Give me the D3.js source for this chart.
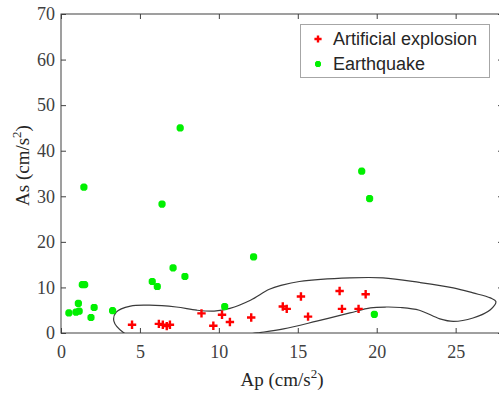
<!DOCTYPE html>
<html>
<head>
<meta charset="utf-8">
<script src="https://cdn.jsdelivr.net/npm/d3@7"></script>
<style>
  body { margin: 0; background: #fff; }
  .tick text { font-family: "Liberation Serif", "Times New Roman", serif; font-size: 18px; fill: #404040; }
  .axis line { stroke: #404040; }
  .axis-label { font-family: "Liberation Serif", "Times New Roman", serif; font-size: 19px; fill: #262626; }
  .legend text { font-family: "Liberation Sans", Arial, sans-serif; font-size: 18px; fill: #262626; }
</style>
</head>
<body>
<div id="chart"></div>
<script>
// data (cm/s^2)
const explosionAp = [4.5, 6.2, 6.45, 6.7, 6.9, 8.9, 9.65, 10.2, 10.7, 12.05, 14.05, 14.3, 15.2, 15.65, 17.65, 17.8, 18.85, 19.3];
const explosionAs = [1.8, 2.0, 1.8, 1.5, 1.8, 4.3, 1.6, 4.0, 2.4, 3.4, 5.8, 5.3, 8.0, 3.6, 9.2, 5.3, 5.3, 8.5];

const quakeAp = [0.5, 0.95, 1.15, 1.1, 1.9, 2.1, 1.35, 1.5, 1.45, 3.27, 5.78, 6.1, 6.4, 7.1, 7.55, 7.85, 10.37, 12.2, 19.05, 19.55, 19.85];
const quakeAs = [4.4, 4.6, 4.8, 6.5, 3.4, 5.6, 10.6, 10.6, 32.0, 4.9, 11.3, 10.2, 28.3, 14.3, 45.0, 12.4, 5.8, 16.7, 35.5, 29.5, 4.1];

// closed boundary curve
const boundAp = [3.95, 3.35, 3.5, 4.4, 5.6, 7.3, 8.6, 9.7, 10.7, 12.0, 13.2, 14.0, 15.1, 18.3, 20.4, 22.7, 24.85, 26.1, 27.2, 27.55, 27.2, 26.1, 24.85, 24.0, 22.7, 21.5, 20.6, 19.6, 18.3, 16.2, 14.1, 12.6, 10.5, 8.0, 5.5, 4.4];
const boundAs = [0.1, 2.6, 4.6, 5.9, 6.1, 5.7, 5.0, 4.8, 5.4, 7.2, 9.6, 10.5, 11.3, 12.1, 12.1, 11.1, 9.9, 8.8, 7.7, 6.9, 5.1, 3.3, 2.55, 3.1, 5.0, 5.6, 5.7, 5.5, 4.4, 2.6, 0.9, 0.1, -0.8, -1.3, -1.1, -0.6];

const xTicks = [0, 5, 10, 15, 20, 25];
const yTicks = [0, 10, 20, 30, 40, 50, 60, 70];
const seriesNames = ["Artificial explosion", "Earthquake"];

const width = 499, height = 396;
const margin = { top: 14, left: 61, bottom: 63 };
const plotRight = 503;

const svg = d3.select("#chart").append("svg")
  .attr("width", width)
  .attr("height", height);

const x = d3.scaleLinear().domain([0, 28]).range([margin.left, plotRight]);
const y = d3.scaleLinear().domain([0, 70]).range([height - margin.bottom, margin.top]);

svg.append("clipPath").attr("id", "plotclip")
  .append("rect")
  .attr("x", x(0)).attr("y", y(70))
  .attr("width", x(28) - x(0)).attr("height", y(0) - y(70));

// axes with inward ticks, box style
const tl = 5;
svg.append("g").attr("class", "axis")
  .attr("transform", `translate(0,${y(0)})`)
  .call(d3.axisBottom(x).tickValues(xTicks).tickSizeInner(-tl).tickSizeOuter(0).tickPadding(12));
svg.append("g").attr("class", "axis")
  .attr("transform", `translate(0,${y(70)})`)
  .call(d3.axisTop(x).tickValues(xTicks).tickSizeInner(-tl).tickSizeOuter(0).tickFormat(""));
svg.append("g").attr("class", "axis")
  .attr("transform", `translate(${x(0)},0)`)
  .call(d3.axisLeft(y).tickValues(yTicks).tickSizeInner(-tl).tickSizeOuter(0).tickPadding(6));
svg.append("g").attr("class", "axis")
  .attr("transform", `translate(${x(28)},0)`)
  .call(d3.axisRight(y).tickValues(yTicks).tickSizeInner(-tl).tickSizeOuter(0).tickFormat(""));
svg.selectAll(".axis .domain").remove();

svg.append("rect")
  .attr("x", x(0)).attr("y", y(70))
  .attr("width", x(28) - x(0)).attr("height", y(0) - y(70))
  .attr("fill", "none").attr("stroke", "#404040").attr("stroke-width", 1);

const plot = svg.append("g").attr("clip-path", "url(#plotclip)");

// boundary
const bound = boundAp.map((d, i) => [d, boundAs[i]]);
plot.append("path")
  .datum(bound)
  .attr("d", d3.line().x(d => x(d[0])).y(d => y(d[1])).curve(d3.curveCatmullRomClosed.alpha(0.5)))
  .attr("fill", "none")
  .attr("stroke", "#3a3a3a")
  .attr("stroke-width", 1.2);

function plus(g, s) {
  g.append("path").attr("d", `M${-s},0H${s}M0,${-s}V${s}`)
    .attr("stroke", "#ff0000").attr("stroke-width", 2.4).attr("fill", "none");
}
function star(g, s) {
  const k = s * 0.75;
  g.append("path").attr("d", `M${-s},0H${s}M0,${-s}V${s}M${-k},${-k}L${k},${k}M${-k},${k}L${k},${-k}`)
    .attr("stroke", "#00f000").attr("stroke-width", 2.6).attr("fill", "none");
}

const quakes = quakeAp.map((d, i) => [d, quakeAs[i]]);
const blasts = explosionAp.map((d, i) => [d, explosionAs[i]]);

plot.selectAll("g.quake").data(quakes).enter().append("g")
  .attr("class", "quake")
  .attr("transform", d => `translate(${x(d[0])},${y(d[1])})`)
  .each(function () { star(d3.select(this), 3.6); });

plot.selectAll("g.blast").data(blasts).enter().append("g")
  .attr("class", "blast")
  .attr("transform", d => `translate(${x(d[0])},${y(d[1])})`)
  .each(function () { plus(d3.select(this), 4.2); });

// axis labels
const xl = svg.append("text").attr("class", "axis-label")
  .attr("x", (x(0) + plotRight) / 2).attr("y", 386)
  .attr("text-anchor", "middle");
xl.append("tspan").text("Ap (cm/s");
xl.append("tspan").attr("font-size", "13px").attr("dy", -8).text("2");
xl.append("tspan").attr("dy", 8).text(")");

const yl = svg.append("text").attr("class", "axis-label")
  .attr("transform", `translate(29,${(y(0) + y(70)) / 2 - 8}) rotate(-90)`)
  .attr("text-anchor", "middle");
yl.append("tspan").text("As (cm/s");
yl.append("tspan").attr("font-size", "13px").attr("dy", -8).text("2");
yl.append("tspan").attr("dy", 8).text(")");

// legend
const legend = svg.append("g").attr("class", "legend");
legend.append("rect")
  .attr("x", 300.5).attr("y", 24.5).attr("width", 189).attr("height", 53)
  .attr("fill", "#fff").attr("stroke", "#a6a6a6").attr("stroke-width", 1);
seriesNames.forEach((name, i) => {
  const row = legend.append("g").attr("transform", `translate(318,${39 + i * 25})`);
  if (i === 0) plus(row, 3.6); else star(row, 3);
  row.append("text").attr("x", 15).attr("y", 0).attr("dy", "0.36em").text(name);
});
</script>
</body>
</html>
